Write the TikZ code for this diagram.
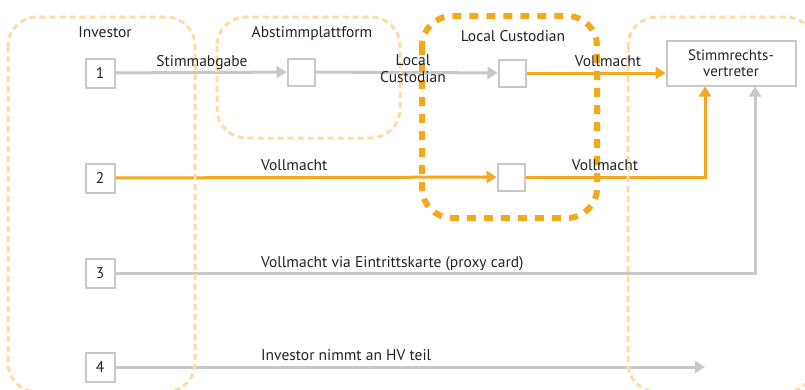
\documentclass[tikz,border=0pt]{standalone}
\usepackage{fontspec}
\setmainfont{PT Sans}
\usetikzlibrary{arrows.meta,positioning,calc}
\definecolor{vorange}{HTML}{F5A81E}
\definecolor{vlight}{HTML}{FDDCA6}
\definecolor{vgray}{HTML}{C8C8C8}
\definecolor{vtext}{HTML}{222222}
\begin{document}
\begin{tikzpicture}[x=1pt, y=-1pt,
        numbox/.style={rectangle, draw=vgray, line width=2pt, fill=white, minimum size=29pt, inner sep=0pt, text=vtext, font=\fontsize{15.5}{17}\selectfont},
        emptybox/.style={numbox, minimum size=27pt},
        svbox/.style={rectangle, draw=vgray, line width=2pt, fill=white, minimum width=129pt, minimum height=45pt, align=center, text=vtext, font=\fontsize{15}{16}\selectfont},
        group/.style={draw=vlight, line width=3pt, dash pattern=on 6pt off 4pt, rounded corners=29pt},
        custgroup/.style={draw=vorange, line width=6pt, dash pattern=on 9pt off 8pt, rounded corners=30pt},
        grayline/.style={draw=vgray, line width=3pt},
        grayarrow/.style={grayline, -{Triangle[length=10pt,width=12pt]}},
        orangearrow/.style={grayarrow, draw=vorange},
        lbl/.style={text=vtext, inner sep=0pt, font=\fontsize{15.5}{17}\selectfont},
    ]
        \useasboundingbox (0,0) rectangle (805,389);
        \clip (0,0) rectangle (805,389);

        % Boxes
        \node[numbox] (n1) at (100,73) {1};
        \node[numbox] (n2) at (100,178) {2};
        \node[numbox] (n3) at (100,273) {3};
        \node[numbox] (n4) at (100,367) {4};
        \node[emptybox] (plat) at (301,72) {};
        \node[emptybox] (cust1) at (512,73) {};
        \node[emptybox] (cust2) at (511,177) {};
        \node[svbox] (sv) at (731,63) {Stimmrechts-\\vertreter};
        \coordinate (hv) at (705,367);

        % Row 1
        \draw[grayarrow] (n1) -- (plat);
        \draw[grayarrow] (plat) -- (cust1);
        \draw[orangearrow] (cust1) -- (sv.west |- cust1);

        % Row 2
        \draw[orangearrow] (n2) -- (cust2);
        \draw[orangearrow] (cust2) -| ([xshift=-26pt]sv.south);

        % Row 3 and 4
        \draw[grayarrow] (n3) -| ([xshift=24pt]sv.south);
        \draw[grayarrow] (n4) -- (hv);

        % Groups
        \draw[group] (8,17) rectangle (195,392);
        \draw[group] (217,17) rectangle (400,138);
        \draw[group] (628,17) rectangle (815,392);
        \draw[custgroup] (422,16) rectangle (597,218);

        % Group titles
        \node[lbl, anchor=base] at (105,37) {Investor};
        \node[lbl, anchor=base] at (312,37) {Abstimmplattform};
        \node[lbl, anchor=base] at (513,41) {Local Custodian};

        % Arrow labels
        \node[lbl, anchor=base] at (202,66) {Stimmabgabe};
        \node[lbl, align=center] at (413,69) {Local\\Custodian};
        \node[lbl, anchor=base] at (608,66) {Vollmacht};
        \node[lbl, anchor=base west] at (261,170) {Vollmacht};
        \node[lbl, anchor=base] at (605,170) {Vollmacht};
        \node[lbl, anchor=base west] at (261,267) {Vollmacht via Eintrittskarte (proxy card)};
        \node[lbl, anchor=base west] at (261,360) {Investor nimmt an HV teil};

    \end{tikzpicture}
\end{document}
